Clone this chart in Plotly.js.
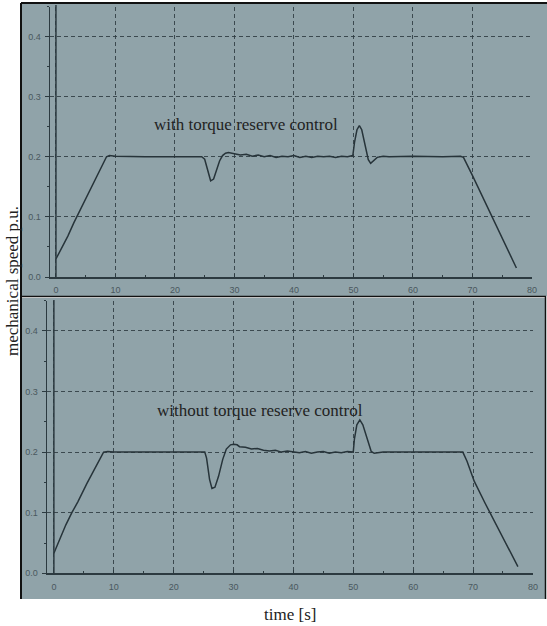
<!DOCTYPE html>
<html>
<head>
<meta charset="utf-8">
<script src="https://cdn.plot.ly/plotly-3.0.1.min.js"></script>
<style>html,body{margin:0;padding:0;background:#fff;}#chart{width:547px;height:626px;}</style>
</head>
<body>
<div id="chart"></div>
<script>
// ---- data ----
const timeWith = [0,1,2,3,3.5,5,7,8.5,9,10,15,20,24.5,25,25.5,26,26.5,27,27.5,28,28.5,29,30,31,32,33,34,35,36,37,38,39,40,41,42,43,44,45,46,47,48,49,49.9,50.2,50.6,51,51.4,52,52.5,52.9,53.4,54,55,56,60,65,68,68.5,70,72,74,76,77.4];
const speedWith = [0.030,0.048,0.068,0.090,0.100,0.128,0.168,0.200,0.202,0.201,0.200,0.200,0.200,0.196,0.178,0.160,0.163,0.178,0.193,0.202,0.206,0.207,0.205,0.203,0.204,0.201,0.203,0.200,0.202,0.199,0.201,0.200,0.202,0.199,0.201,0.199,0.201,0.200,0.201,0.199,0.201,0.200,0.202,0.225,0.245,0.252,0.245,0.215,0.195,0.189,0.193,0.199,0.201,0.200,0.201,0.200,0.201,0.199,0.169,0.127,0.086,0.044,0.015];

const timeWithout = [0,1,2,3,4,5.5,7,8.3,9,10,20,25.2,25.5,26,26.4,26.9,27.5,28.2,28.8,29.5,30,30.6,31,32,33,34,35,36,37,38,39,40,41,42,43,44,45,46,47,48,49,50,50.2,50.6,51.1,51.6,52.3,53,53.5,54,55,60,65,68,68.3,69,70.2,72,74,76,77.5];
const speedWithout = [0.033,0.058,0.080,0.100,0.118,0.148,0.176,0.200,0.201,0.200,0.200,0.200,0.190,0.155,0.140,0.142,0.160,0.188,0.205,0.212,0.213,0.212,0.209,0.208,0.205,0.206,0.203,0.202,0.203,0.200,0.202,0.200,0.199,0.201,0.198,0.200,0.201,0.198,0.200,0.199,0.201,0.200,0.222,0.245,0.253,0.245,0.222,0.201,0.198,0.199,0.200,0.200,0.200,0.201,0.200,0.185,0.152,0.116,0.078,0.040,0.011];

const xTicks = [0,10,20,30,40,50,60,70,80];
const xTickText = ['0','10','20','30','40','50','60','70','80'];
const yTicks = [0,0.1,0.2,0.3,0.4];
const yTickText = ['0.0','0.1','0.2','0.3','0.4'];
const labelWith = 'with torque reserve control';
const labelWithout = 'without torque reserve control';
const yTitle = 'mechanical speed p.u.';
const xTitle = 'time [s]';

// ---- layout helpers (pixel -> paper) ----
const W = 547, H = 626;
const px = v => v / W;
const py = v => 1 - v / H;

const lineCol = '#2c3a40';
const gridCol = 'rgba(45,58,64,0.85)';
const panelCol = '#90a3a9';
const serif = 'Liberation Serif, Times New Roman, serif';

function xAxis(d0, d1, r0, anchor) {
  return {
    domain: [px(d0), px(d1)], range: [r0, 80.02], anchor: anchor,
    tickmode: 'array', tickvals: xTicks, ticktext: xTickText,
    ticks: 'inside', ticklen: 3, tickcolor: lineCol, tickwidth: 1,
    minor: {dtick: 5, tick0: 0, ticks: 'inside', ticklen: 2, tickcolor: lineCol, showgrid: false},
    showgrid: true, gridcolor: gridCol, gridwidth: 1, griddash: '4px,3px',
    showline: true, linecolor: lineCol, linewidth: 1.5,
    zeroline: false,
    tickfont: {family: 'Liberation Sans, Arial, sans-serif', size: 9, color: '#4a585e'},
    ticklabelstandoff: 4
  };
}
function yAxis(d0, d1, anchor) {
  return {
    domain: [py(d1), py(d0)], range: [0, 0.45], anchor: anchor,
    tickmode: 'array', tickvals: yTicks, ticktext: yTickText,
    ticks: 'outside', ticklen: 4, tickcolor: lineCol, tickwidth: 1,
    minor: {dtick: 0.05, tick0: 0, ticks: 'outside', ticklen: 2, tickcolor: lineCol, showgrid: false},
    showgrid: true, gridcolor: gridCol, gridwidth: 1, griddash: '4px,3px',
    showline: true, linecolor: lineCol, linewidth: 1.5,
    zeroline: false,
    tickfont: {family: 'Liberation Sans, Arial, sans-serif', size: 9, color: '#4a585e'},
    ticklabelstandoff: 2
  };
}

const traces = [
  {x: timeWith, y: speedWith, xaxis: 'x', yaxis: 'y', type: 'scatter', mode: 'lines',
   line: {color: '#27343a', width: 1.5}, hoverinfo: 'skip', showlegend: false},
  {x: timeWithout, y: speedWithout, xaxis: 'x2', yaxis: 'y2', type: 'scatter', mode: 'lines',
   line: {color: '#27343a', width: 1.5}, hoverinfo: 'skip', showlegend: false}
];

const shapes = [
  // panel backgrounds
  {type: 'rect', xref: 'paper', yref: 'paper', x0: px(21), x1: px(547), y0: py(296), y1: py(3), fillcolor: panelCol, line: {width: 0}, layer: 'below'},
  {type: 'rect', xref: 'paper', yref: 'paper', x0: px(21), x1: px(545), y0: py(599), y1: py(298), fillcolor: panelCol, line: {width: 0}, layer: 'below'},
  // borders
  {type: 'line', xref: 'paper', yref: 'paper', x0: px(21), x1: px(547), y0: py(3), y1: py(3), line: {color: '#111', width: 2}},
  {type: 'line', xref: 'paper', yref: 'paper', x0: px(21), x1: px(21), y0: py(3), y1: py(599), line: {color: '#111', width: 2}},
  {type: 'line', xref: 'paper', yref: 'paper', x0: px(21), x1: px(546), y0: py(296.5), y1: py(296.5), line: {color: '#111', width: 1.5}},
  {type: 'line', xref: 'paper', yref: 'paper', x0: px(545.5), x1: px(545.5), y0: py(296), y1: py(599), line: {color: '#111', width: 1.5}},
  // t = 0 cursor lines
  {type: 'line', xref: 'x', yref: 'paper', x0: 0, x1: 0, y0: py(277), y1: py(5), line: {color: lineCol, width: 1.5}},
  {type: 'line', xref: 'x2', yref: 'paper', x0: 0, x1: 0, y0: py(574), y1: py(300), line: {color: lineCol, width: 1.5}}
];

const annotations = [
  {text: labelWith, xref: 'x', yref: 'y', x: 31.9, y: 0.253, showarrow: false,
   font: {family: serif, size: 17, color: '#222'}},
  {text: labelWithout, xref: 'x2', yref: 'y2', x: 34.4, y: 0.269, showarrow: false,
   font: {family: serif, size: 17, color: '#222'}},
  {text: yTitle, xref: 'paper', yref: 'paper', x: px(12), y: py(281), textangle: -90, showarrow: false,
   xanchor: 'center', yanchor: 'middle',
   font: {family: serif, size: 17, color: '#222'}},
  {text: xTitle, xref: 'paper', yref: 'paper', x: px(290), y: py(614), showarrow: false,
   xanchor: 'center', yanchor: 'middle',
   font: {family: serif, size: 17, color: '#222'}}
];

const layout = {
  width: W, height: H,
  margin: {l: 0, r: 0, t: 0, b: 0},
  paper_bgcolor: '#ffffff',
  plot_bgcolor: 'rgba(0,0,0,0)',
  showlegend: false,
  xaxis: xAxis(50, 532, -1.0, 'y'),
  yaxis: yAxis(6.5, 277, 'x'),
  xaxis2: xAxis(47, 533, -1.15, 'y2'),
  yaxis2: yAxis(300.6, 573.3, 'x2'),
  shapes: shapes,
  annotations: annotations
};

Plotly.newPlot('chart', traces, layout, {staticPlot: true, displayModeBar: false});
</script>
</body>
</html>
